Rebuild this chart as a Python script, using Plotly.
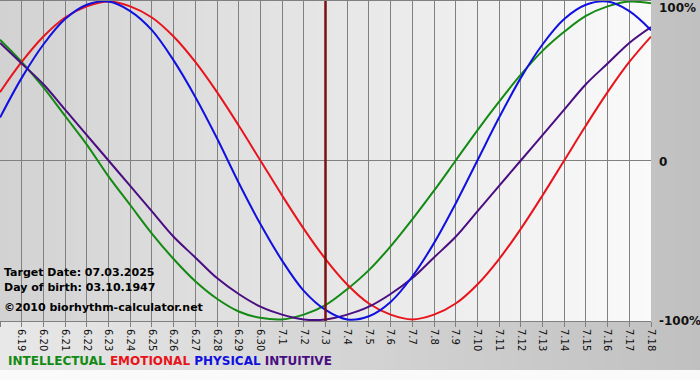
import zlib, struct, base64
import plotly.graph_objects as go

# ---- data ----
day_labels = ["6.18", "6.19", "6.20", "6.21", "6.22", "6.23", "6.24", "6.25", "6.26", "6.27",
              "6.28", "6.29", "6.30", "7.1", "7.2", "7.3", "7.4", "7.5", "7.6", "7.7",
              "7.8", "7.9", "7.10", "7.11", "7.12", "7.13", "7.14", "7.15", "7.16", "7.17", "7.18"]
physical = [0.27, 0.52, 0.73, 0.89, 0.98, 1.00, 0.94, 0.82, 0.63, 0.40, 0.14, -0.14, -0.40, -0.63,
            -0.82, -0.94, -1.00, -0.98, -0.89, -0.73, -0.52, -0.27, 0.00, 0.27, 0.52, 0.73, 0.89,
            0.98, 1.00, 0.94, 0.82]
emotional = [0.43, 0.62, 0.78, 0.90, 0.97, 1.00, 0.97, 0.90, 0.78, 0.62, 0.43, 0.22, 0.00, -0.22,
             -0.43, -0.62, -0.78, -0.90, -0.97, -1.00, -0.97, -0.90, -0.78, -0.62, -0.43, -0.22,
             0.00, 0.22, 0.43, 0.62, 0.78]
intellectual = [0.76, 0.62, 0.46, 0.28, 0.10, -0.10, -0.28, -0.46, -0.62, -0.76, -0.87, -0.95,
                -0.99, -1.00, -0.97, -0.91, -0.81, -0.69, -0.54, -0.37, -0.19, 0.00, 0.19, 0.37,
                0.54, 0.69, 0.81, 0.91, 0.97, 1.00, 0.99]
intuitive = [0.74, 0.61, 0.48, 0.32, 0.16, 0.00, -0.16, -0.32, -0.48, -0.61, -0.74, -0.84, -0.92,
             -0.97, -1.00, -1.00, -0.97, -0.92, -0.84, -0.74, -0.61, -0.48, -0.32, -0.16, 0.00,
             0.16, 0.32, 0.48, 0.61, 0.74, 0.84]
target_label = "7.3"
target_date = "07.03.2025"
birth_date = "03.10.1947"

x_idx = list(range(len(day_labels)))
target_x = day_labels.index(target_label)

# ---- background gradient image ----
W, H = 700, 380
PW, PH = 651, 321
rows = []
for yy in range(H):
    row = bytearray([0])
    for xx in range(W):
        if xx < PW and yy < PH:
            v = int(round(210 + (250 - 210) * xx / PW))
        elif yy >= 370:
            v = 250
        else:
            v = int(round(232 - (232 - 192) * xx / W))
        row += bytes((v, v, v))
    rows.append(bytes(row))
raw = b"".join(rows)


def chunk(tag, data):
    return struct.pack(">I", len(data)) + tag + data + struct.pack(">I", zlib.crc32(tag + data) & 0xffffffff)


png = (b"\x89PNG\r\n\x1a\n" + chunk(b"IHDR", struct.pack(">IIBBBBB", W, H, 8, 2, 0, 0, 0))
       + chunk(b"IDAT", zlib.compress(raw, 9)) + chunk(b"IEND", b""))
bg_uri = "data:image/png;base64," + base64.b64encode(png).decode()

FONT = "DejaVu Sans"
GREEN, RED, BLUE, PURPLE = "#138a13", "#e8141c", "#1010e0", "#4a0e82"

fig = go.Figure()
for name, vals, col in [("INTELLECTUAL", intellectual, GREEN),
                        ("EMOTIONAL", emotional, RED),
                        ("INTUITIVE", intuitive, PURPLE),
                        ("PHYSICAL", physical, BLUE)]:
    fig.add_trace(go.Scatter(x=x_idx, y=vals, mode="lines", name=name,
                             line=dict(color=col, width=2, shape="spline", smoothing=1),
                             hoverinfo="skip", showlegend=False))

fig.update_layout(
    width=700, height=380,
    margin=dict(l=0, r=W - PW, t=0, b=H - PH, autoexpand=False),
    paper_bgcolor="white", plot_bgcolor="rgba(0,0,0,0)",
    font=dict(family=FONT, color="black"),
    images=[dict(source=bg_uri, xref="paper", yref="paper", x=0, y=1,
                 sizex=W / PW, sizey=H / PH, xanchor="left", yanchor="top",
                 sizing="stretch", layer="below")],
    xaxis=dict(range=[0, len(day_labels) - 1], tickmode="array", tickvals=x_idx, ticktext=day_labels,
               tickangle=90, tickfont=dict(size=10, family=FONT, color="#111"),
               showgrid=True, gridcolor="#808080", gridwidth=1, automargin=False,
               showline=True, linecolor="#808080", linewidth=1,
               ticks="outside", ticklen=5, tickcolor="#808080", zeroline=False, fixedrange=True),
    yaxis=dict(range=[-1.01, 1.01], showgrid=False, showticklabels=False, ticks="", automargin=False,
               zeroline=True, zerolinecolor="#808080", zerolinewidth=1, fixedrange=True),
    shapes=[
        dict(type="line", xref="x", yref="paper", x0=target_x, x1=target_x, y0=0, y1=1,
             line=dict(color="#7a1010", width=2.5)),
        dict(type="line", xref="paper", yref="paper", x0=0, x1=1, y0=1, y1=1,
             line=dict(color="#808080", width=2)),
    ],
)

ann = []
for txt, yv, ys in [("100%", 1, -6), ("0", 0, -1), ("-100%", -1, -2)]:
    ann.append(dict(text=txt, xref="paper", yref="y", x=1, y=yv, xanchor="left", yanchor="middle",
                    xshift=6, yshift=ys, showarrow=False,
                    font=dict(size=12, family=FONT, color="#111", weight="bold")))
for txt, py in [("Target Date: " + target_date, 272), ("Day of birth: " + birth_date, 287),
                ("\u00a92010 biorhythm-calculator.net", 307)]:
    ann.append(dict(text=txt, xref="paper", yref="paper", x=0, y=1 - py / PH, xanchor="left",
                    yanchor="middle", xshift=2, showarrow=False,
                    font=dict(size=11, family=FONT, color="black", weight="bold")))
legend_html = (f"<span style='color:{GREEN}'>INTELLECTUAL</span> "
               f"<span style='color:{RED}'>EMOTIONAL</span> "
               f"<span style='color:{BLUE}'>PHYSICAL</span> "
               f"<span style='color:{PURPLE}'>INTUITIVE</span>")
ann.append(dict(text=legend_html, xref="paper", yref="paper", x=0, y=1 - 361 / PH, xanchor="left",
                yanchor="middle", xshift=6, showarrow=False,
                font=dict(size=12, family=FONT, weight="bold")))
fig.update_layout(annotations=ann)

fig.write_html("out.html", config={"displayModeBar": False, "staticPlot": True},
               post_script="document.body.style.margin='0';document.body.style.overflow='hidden';")
